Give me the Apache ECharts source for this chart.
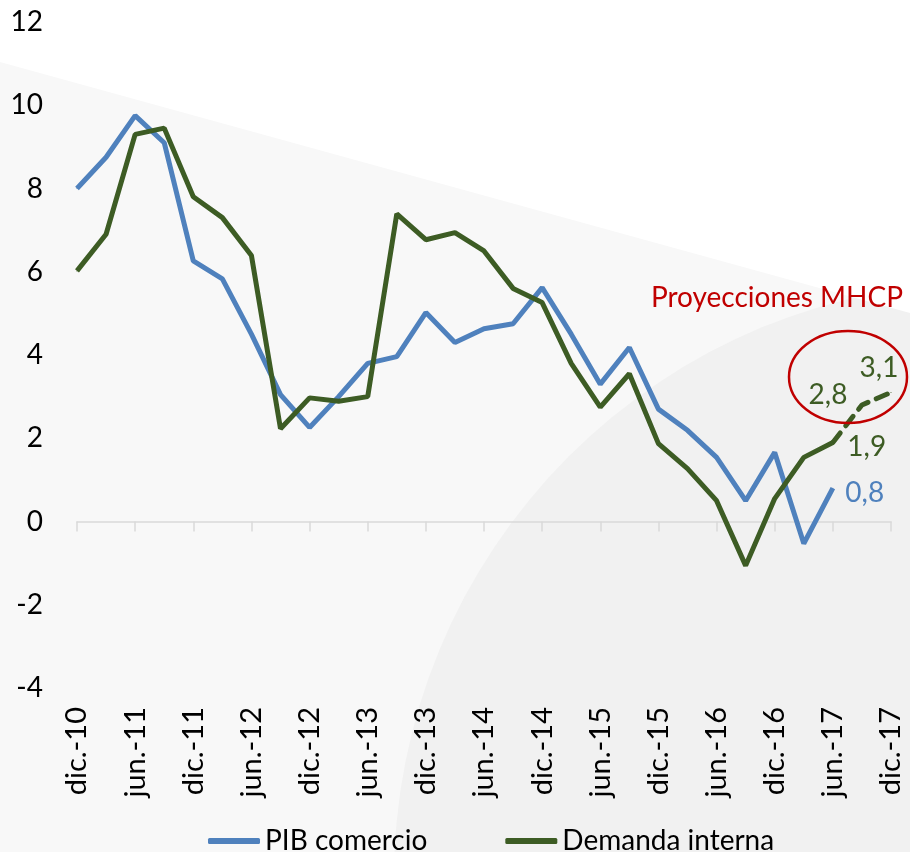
<!DOCTYPE html>
<html>
<head>
<meta charset="utf-8">
<script src="https://cdn.jsdelivr.net/npm/echarts@6/dist/echarts.min.js"></script>
<style>
  html,body{margin:0;padding:0;background:#fff;}
  #chart{width:910px;height:852px;}
</style>
</head>
<body>
<div id="chart"></div>
<script>
// 类目：季度（dic.-10 到 dic.-17）
var categories = ['dic.-10','mar.-11','jun.-11','sep.-11','dic.-11','mar.-12','jun.-12','sep.-12','dic.-12',
  'mar.-13','jun.-13','sep.-13','dic.-13','mar.-14','jun.-14','sep.-14','dic.-14','mar.-15','jun.-15',
  'sep.-15','dic.-15','mar.-16','jun.-16','sep.-16','dic.-16','mar.-17','jun.-17','sep.-17','dic.-17'];
// PIB comercio
var pibComercio = [8.0,8.75,9.75,9.1,6.26,5.83,4.5,3.05,2.26,3.0,3.8,3.96,5.02,4.3,4.63,4.75,5.62,4.5,3.3,
  4.18,2.7,2.19,1.54,0.5,1.66,-0.53,0.8,null,null];
// Demanda interna
var demandaInterna = [6.02,6.9,9.3,9.45,7.8,7.3,6.39,2.23,2.97,2.89,3.0,7.39,6.77,6.94,6.5,5.6,5.26,3.8,2.75,
  3.55,1.87,1.27,0.5,-1.06,0.55,1.54,1.9,null,null];
// Proyecciones MHCP (demanda interna)
var proyeccion = [null,null,null,null,null,null,null,null,null,null,null,null,null,null,null,null,null,null,
  null,null,null,null,null,null,null,null,1.9,2.8,3.1];
var yTicks = [-4,-2,0,2,4,6,8,10,12];

(function(){
  var myChart = echarts.init(document.getElementById('chart'));
  var font = 'Lato, "Open Sans", sans-serif';
  var blue = '#4f81bd', green = '#3d5c24', red = '#c00000';
  var fmt = function(p){ return String(p.value).replace('.', ','); };

  // 给指定点加数据标签
  function withLabels(arr, labels){
    return arr.map(function(v, i){
      if (labels[i]) return { value: v, label: Object.assign({ show: true }, labels[i]) };
      return v;
    });
  }

  var option = {
    backgroundColor: '#f8f8f8',
    textStyle: { fontFamily: font },
    // 背景装饰
    graphic: [
      { type: 'circle', z: -10, silent: true, shape: { cx: 990, cy: 878, r: 596 }, style: { fill: '#f1f1f1' } },
      { type: 'polygon', z: -9, silent: true, shape: { points: [[0,0],[910,0],[910,313],[0,62]] }, style: { fill: '#ffffff' } },
      { type: 'text', z: 10, right: 7, top: 284, style: { text: 'Proyecciones MHCP', fill: red, font: '28px ' + font } },
      { type: 'ellipse', z: 10, shape: { cx: 848, cy: 377, rx: 59, ry: 46 }, style: { fill: 'none', stroke: red, lineWidth: 2.5 } }
    ],
    grid: { left: 77, right: 19, top: 22, bottom: 164, containLabel: false },
    legend: {
      data: ['PIB comercio', 'Demanda interna'],
      left: 203, top: 822,
      icon: 'roundRect', itemWidth: 52, itemHeight: 6, itemGap: 78,
      textStyle: { fontSize: 28, color: '#000', fontFamily: font }
    },
    xAxis: [
      {
        type: 'category', data: categories, boundaryGap: false,
        axisLine: { show: false, onZero: false }, axisTick: { show: false },
        axisLabel: { interval: 1, rotate: 90, margin: 19, fontSize: 29, color: '#000', fontFamily: font }
      },
      {
        type: 'category', data: categories, boundaryGap: false, position: 'bottom',
        axisLine: { show: true, onZero: true, lineStyle: { color: '#d9d9d9', width: 1.5 } },
        axisTick: { show: true, interval: 1, length: 10, lineStyle: { color: '#d9d9d9', width: 1.5 } },
        axisLabel: { show: false }
      }
    ],
    yAxis: {
      type: 'value', min: -4, max: 12, interval: 2,
      axisLine: { show: false }, axisTick: { show: false }, splitLine: { show: false },
      axisLabel: { margin: 34, fontSize: 28, color: '#000', fontFamily: font }
    },
    series: [
      {
        name: 'PIB comercio', type: 'line', xAxisIndex: 0,
        data: withLabels(pibComercio, { 26: { position: 'right', distance: 12, offset: [0, 5] } }),
        symbol: 'circle', symbolSize: 1, showSymbol: true,
        lineStyle: { color: blue, width: 5 }, itemStyle: { color: blue },
        label: { show: false, formatter: fmt, fontSize: 28, color: blue, fontFamily: font }
      },
      {
        name: 'Demanda interna', type: 'line', xAxisIndex: 0,
        data: withLabels(demandaInterna, { 26: { position: 'right', distance: 14, offset: [0, 5] } }),
        symbol: 'circle', symbolSize: 1, showSymbol: true,
        lineStyle: { color: green, width: 5 }, itemStyle: { color: green },
        label: { show: false, formatter: fmt, fontSize: 28, color: green, fontFamily: font }
      },
      {
        name: 'Proyección', type: 'line', xAxisIndex: 0,
        data: withLabels(proyeccion, {
          27: { position: 'left', distance: 14, offset: [0, -10] },
          28: { position: 'top', distance: 10, offset: [-12, 0] }
        }),
        symbol: 'circle', symbolSize: 1, showSymbol: true,
        lineStyle: { color: green, width: 5, type: [12, 9], cap: 'round' }, itemStyle: { color: green },
        label: { show: false, formatter: fmt, fontSize: 28, color: green, fontFamily: font }
      }
    ]
  };
  myChart.setOption(option);
})();
</script>
</body>
</html>
